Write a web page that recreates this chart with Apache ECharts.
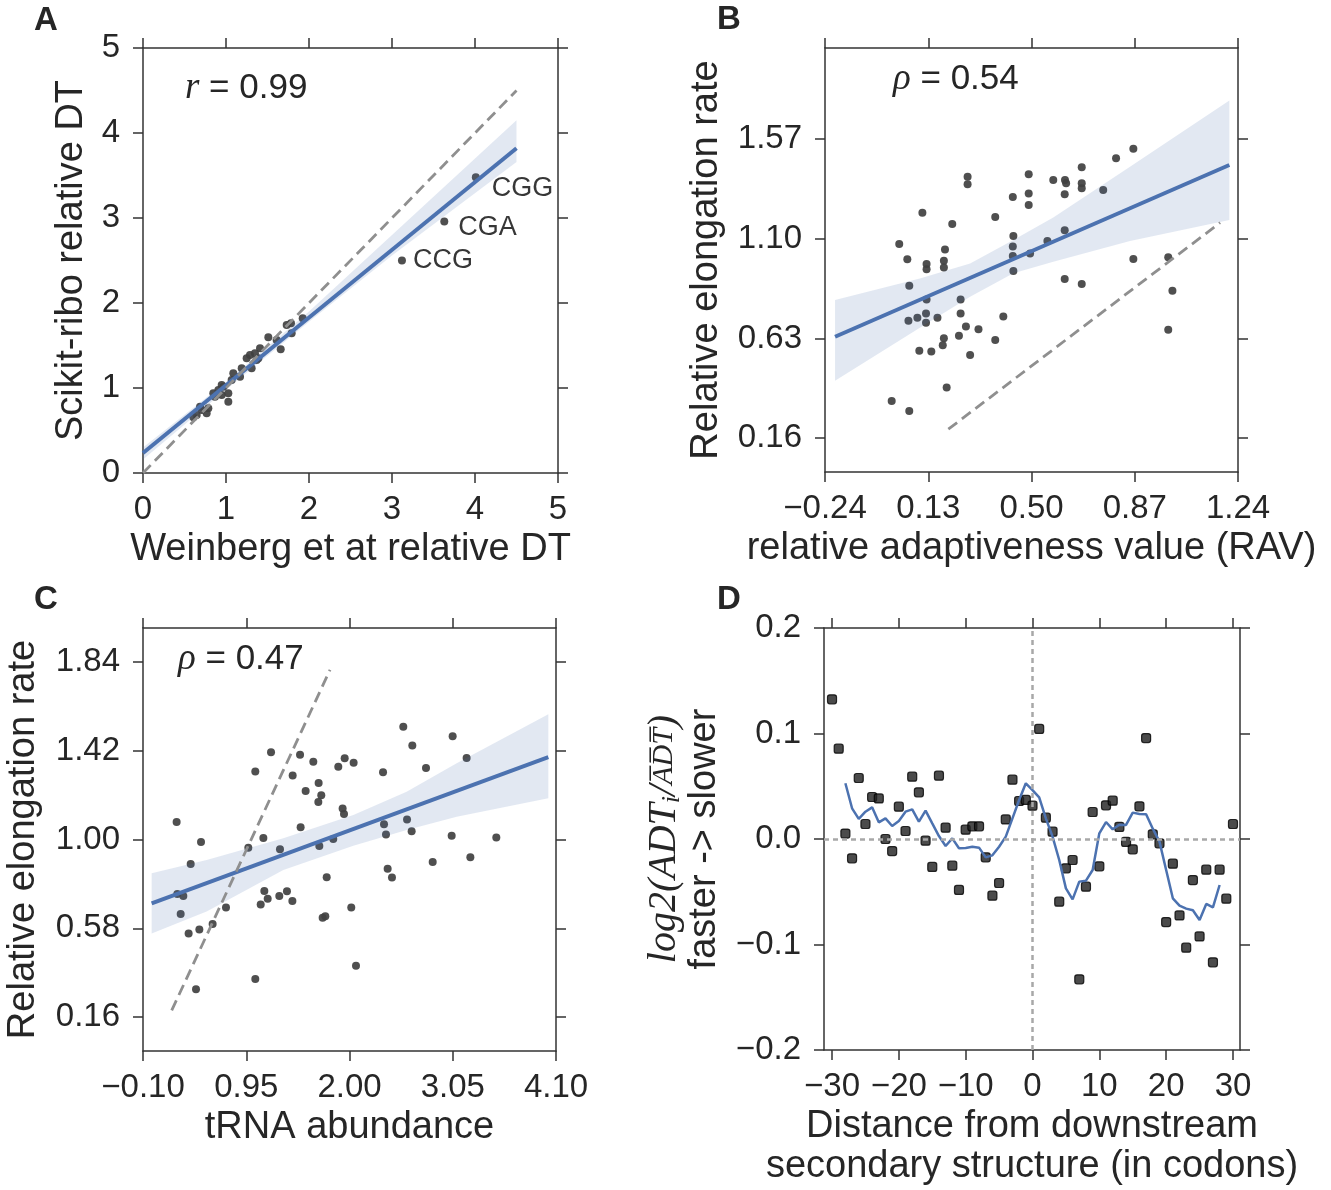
<!DOCTYPE html>
<html><head><meta charset="utf-8">
<script src="https://cdn.jsdelivr.net/npm/echarts@6/dist/echarts.min.js"></script>
<style>html,body{margin:0;padding:0;background:#fff;} #c{width:1331px;height:1190px;}</style>
</head><body><div id="c"></div>
<script>
// ---------- Panel A ----------
const aTicks = [0, 1, 2, 3, 4, 5];
const aPoints = [[0.647,0.682],[0.607,0.655],[0.707,0.741],[0.787,0.761],[0.847,0.937],[0.908,0.976],[0.968,1.016],[0.948,0.918],[1.028,0.839],[1.028,0.937],[1.088,1.173],[1.189,1.231],[1.289,1.388],[1.349,1.408],[1.41,1.467],[1.309,1.231],[1.39,1.349],[1.51,1.596],[1.61,1.565],[1.659,1.455],[1.731,1.741],[1.791,1.643],[1.783,1.761],[1.924,1.82],[0.948,1.035],[0.867,0.898],[0.767,0.702],[0.687,0.78],[1.068,1.094],[1.249,1.349],[1.369,1.329],[1.169,1.133]];
const aNamed = ['CCG', 'CGA', 'CGG'];
const aNamedPoints = [[3.12,2.50],[3.63,2.96],[4.01,3.48]];
const aFit = [[0,0.235],[4.5,3.82]];
const aBandX = [0, 1, 2, 3, 4.5];
const aBandLo = [0.16, 0.98, 1.78, 2.56, 3.66];
const aBandHi = [0.30, 1.07, 1.90, 2.80, 4.15];
const aIdentity = [[0,0],[4.5,4.5]];

// ---------- Panel B ----------
const bXTicks = [-0.24, 0.13, 0.50, 0.87, 1.24];
const bYTicks = [0.16, 0.63, 1.10, 1.57];
const bPoints = [[0.026,1.075],[0.055,1.003],[0.109,1.223],[0.124,0.981],[0.124,0.956],[0.062,0.879],[0.124,0.814],[0.059,0.714],[0.091,0.728],[0.122,0.748],[0.122,0.704],[0.163,0.728],[0.190,1.050],[0.186,0.997],[0.186,0.965],[0.216,1.170],[0.246,0.814],[0.246,0.748],[0.265,0.686],[0.310,0.673],[0.240,0.643],[0.186,0.631],[0.182,0.598],[0.098,0.572],[0.141,0.568],[0.280,0.552],[0.196,0.399],[-0.001,0.335],[0.062,0.288],[0.271,1.393],[0.271,1.357],[0.370,1.203],[0.399,0.734],[0.370,0.623],[0.433,1.297],[0.435,1.113],[0.433,1.064],[0.433,1.019],[0.435,0.948],[0.495,1.031],[0.490,1.404],[0.490,1.314],[0.490,1.259],[0.557,1.090],[0.578,1.377],[0.620,1.377],[0.624,1.362],[0.619,1.310],[0.619,1.140],[0.619,0.910],[0.680,1.437],[0.680,1.362],[0.680,1.338],[0.680,0.887],[0.757,1.330],[0.803,1.480],[0.865,1.525],[0.865,1.005],[0.990,1.013],[1.005,0.855],[0.990,0.671]];
const bFit = [[-0.204,0.638],[1.209,1.448]];
const bBandX = [-0.204, 0.1, 0.28, 0.435, 0.578, 0.853, 1.209];
const bBandLo = [0.431, 0.68, 0.827, 0.937, 0.992, 1.09, 1.189];
const bBandHi = [0.811, 0.913, 0.984, 1.094, 1.20, 1.44, 1.752];
const bIdentity = [[0.202,0.202],[1.176,1.176]];

// ---------- Panel C ----------
const cXTicks = [-0.10, 0.95, 2.00, 3.05, 4.10];
const cYTicks = [0.16, 0.58, 1.00, 1.42, 1.84];
const cPoints = [[0.242,1.083],[0.490,0.988],[0.385,0.884],[0.249,0.742],[0.310,0.733],[0.283,0.648],[0.364,0.556],[0.473,0.575],[0.608,0.600],[0.744,0.679],[0.439,0.292],[1.042,0.340],[1.042,1.321],[1.202,1.412],[1.124,1.007],[0.971,0.961],[1.134,0.757],[1.097,0.693],[1.168,0.720],[1.286,0.733],[1.364,0.755],[1.419,0.709],[1.293,0.954],[1.422,1.303],[1.497,1.401],[1.554,1.229],[1.503,1.058],[1.632,1.368],[1.686,1.267],[1.713,1.209],[1.683,1.177],[1.693,0.969],[1.835,1.002],[1.768,0.821],[1.727,0.630],[1.754,0.637],[1.886,1.344],[1.951,1.384],[2.042,1.363],[1.930,1.147],[1.944,1.121],[2.018,0.678],[2.066,0.403],[2.341,1.318],[2.351,1.072],[2.371,1.024],[2.388,0.862],[2.432,0.820],[2.547,1.533],[2.639,1.445],[2.585,1.095],[2.632,1.039],[2.778,1.338],[2.846,0.894],[3.049,1.488],[3.039,1.018],[3.191,1.385],[3.229,0.916],[3.493,1.010]];
const cFit = [[-0.012,0.698],[4.022,1.389]];
const cBandX = [-0.012, 0.547, 1.327, 2.039, 2.581, 3.090, 4.022];
const cBandLo = [0.556, 0.66, 0.856, 0.971, 1.045, 1.108, 1.195];
const cBandHi = [0.840, 0.903, 1.006, 1.116, 1.226, 1.360, 1.592];
const cIdentity = [[0.192,0.192],[1.802,1.802]];

// ---------- Panel D ----------
const dXTicks = [-30, -20, -10, 0, 10, 20, 30];
const dYTicks = [-0.2, -0.1, 0.0, 0.1, 0.2];
const dPos = [-30,-29,-28,-27,-26,-25,-24,-23,-22,-21,-20,-19,-18,-17,-16,-15,-14,-13,-12,-11,-10,-9,-8,-7,-6,-5,-4,-3,-2,-1,0,1,2,3,4,5,6,7,8,9,10,11,12,13,14,15,16,17,18,19,20,21,22,23,24,25,26,27,28,29,30];
const dVals = [0.1324,0.0856,0.0051,-0.0183,0.0578,0.0142,0.0398,0.0385,0.0,-0.0114,0.0306,0.0076,0.0591,0.0442,-0.0016,-0.0265,0.0600,0.0107,-0.0253,-0.0483,0.0088,0.0120,0.0120,-0.0174,-0.0537,-0.0417,0.0186,0.0562,0.0360,0.0370,0.0316,0.1043,0.0202,0.0069,-0.0594,-0.0278,-0.0199,-0.1330,-0.0452,0.0256,-0.0259,0.0319,0.0363,0.0114,-0.0028,-0.0098,0.0310,0.0957,0.0044,-0.0041,-0.0787,-0.0234,-0.0724,-0.1030,-0.0389,-0.0923,-0.0291,-0.1169,-0.0291,-0.0566,0.0142];
const dLinePos = [-28,-27,-26,-25,-24,-23,-22,-21,-20,-19,-18,-17,-16,-15,-14,-13,-12,-11,-10,-9,-8,-7,-6,-5,-4,-3,-2,-1,0,1,2,3,4,5,6,7,8,9,10,11,12,13,14,15,16,17,18,19,20,21,22,23,24,25,26,27,28];
const dLineVals = [0.0528,0.0291,0.0190,0.0259,0.0300,0.0158,0.0196,0.0123,0.0171,0.0259,0.0281,0.0164,0.0269,0.0148,0.0028,-0.0066,0.0006,-0.0088,-0.0085,-0.0073,-0.0082,-0.0174,-0.0155,-0.0073,0.0022,0.0196,0.0370,0.0528,0.0464,0.0395,0.0196,0.0022,-0.0199,-0.0468,-0.0572,-0.0404,-0.0395,-0.0294,0.0054,0.0161,0.0092,0.0136,0.0133,0.0250,0.0237,0.0234,0.0098,-0.0025,-0.0294,-0.0562,-0.0632,-0.0660,-0.0676,-0.0768,-0.0616,-0.0648,-0.0436];

// ---------- styling ----------
const TXT = '#262626';
const SPINE = '#333333';
const BLUE = '#4c72b0';
const SANS = 'Liberation Sans';
const SERIF = 'Liberation Serif';
const TICK_FS = 33, TITLE_FS = 38;

function fmt(dec) {
  return function (v) {
    const s = Math.abs(v).toFixed(dec);
    return (v < -1e-9 ? '\u2212' : '') + s;
  };
}

const grids = [], xAxes = [], yAxes = [], series = [];

function addPanel(p) {
  const gi = grids.length;
  grids.push({ left: p.grid[0], top: p.grid[1], width: p.grid[2], height: p.grid[3], show: false });
  const line = { show: true, onZero: false, lineStyle: { color: SPINE, width: 1.5 } };
  const tick = (vals) => ({ show: true, inside: false, length: 10, lineStyle: { color: SPINE, width: 1.5 }, customValues: vals });
  xAxes.push({
    type: 'value', gridIndex: gi, position: 'bottom', min: p.xr[0], max: p.xr[1],
    axisLine: line, axisTick: tick(p.xt), splitLine: { show: false },
    axisLabel: { show: true, customValues: p.xt, formatter: fmt(p.xd), fontSize: TICK_FS, color: TXT, fontFamily: SANS, margin: 20 },
    name: p.xname, nameLocation: 'middle', nameGap: 57,
    nameTextStyle: { fontSize: TITLE_FS, lineHeight: 40, color: TXT, fontFamily: SANS }
  });
  xAxes.push({
    type: 'value', gridIndex: gi, position: 'top', min: p.xr[0], max: p.xr[1],
    axisLine: line, axisTick: tick(p.xt), splitLine: { show: false },
    axisLabel: { show: false, customValues: p.xt }
  });
  yAxes.push({
    type: 'value', gridIndex: gi, position: 'left', min: p.yr[0], max: p.yr[1],
    axisLine: line, axisTick: tick(p.yt), splitLine: { show: false },
    axisLabel: { show: true, customValues: p.yt, formatter: fmt(p.yd), fontSize: TICK_FS, color: TXT, fontFamily: SANS, margin: 23 },
    name: p.yname, nameLocation: 'middle', nameGap: p.ygap, nameRotate: 90,
    nameTextStyle: Object.assign({ fontSize: TITLE_FS, lineHeight: 40, color: TXT, fontFamily: SANS }, p.ynameStyle || {})
  });
  yAxes.push({
    type: 'value', gridIndex: gi, position: 'right', min: p.yr[0], max: p.yr[1],
    axisLine: line, axisTick: tick(p.yt), splitLine: { show: false },
    axisLabel: { show: false, customValues: p.yt }
  });
  return { xAxisIndex: 2 * gi, yAxisIndex: 2 * gi };
}

function regPanel(ax, pts, fit, bx, lo, hi, ident) {
  series.push(Object.assign({
    type: 'scatter', data: pts, symbolSize: 8, silent: true, z: 2,
    itemStyle: { color: '#404040', opacity: 0.92 }
  }, ax));
  series.push(Object.assign({
    type: 'custom', silent: true, z: 3,
    data: bx.map((x, i) => [x, lo[i], hi[i]]),
    renderItem: function (params, api) {
      if (params.dataIndex !== 0) return null;
      const pts2 = [];
      for (let i = 0; i < bx.length; i++) pts2.push(api.coord([bx[i], hi[i]]));
      for (let i = bx.length - 1; i >= 0; i--) pts2.push(api.coord([bx[i], lo[i]]));
      return { type: 'polygon', shape: { points: pts2 }, style: { fill: 'rgba(76,114,176,0.16)' } };
    }
  }, ax));
  series.push(Object.assign({
    type: 'line', data: fit, symbol: 'none', silent: true, z: 4,
    lineStyle: { color: BLUE, width: 4 }
  }, ax));
  series.push(Object.assign({
    type: 'line', data: ident, symbol: 'none', silent: true, z: 5,
    lineStyle: { color: '#8f8f8f', width: 2.8, type: [11, 6] }
  }, ax));
}

// Panel A
const axA = addPanel({ grid: [143, 48, 415, 425], xr: [0, 5], yr: [0, 5], xt: aTicks, yt: aTicks, xd: 0, yd: 0,
  xname: 'Weinberg et at relative DT', yname: 'Scikit-ribo relative DT', ygap: 51 });
regPanel(axA, aPoints, aFit, aBandX, aBandLo, aBandHi, aIdentity);
const aOffsets = [[0, 0], [3, 6], [5, 11]];
series.push(Object.assign({
  type: 'scatter', symbolSize: 8, silent: true, z: 2,
  itemStyle: { color: '#404040', opacity: 0.92 },
  data: aNamed.map((n, i) => ({ name: n, value: aNamedPoints[i], label: { offset: aOffsets[i] } })),
  label: { show: true, position: 'right', distance: 7, formatter: (p) => p.name, fontSize: 27, color: TXT, fontFamily: SANS }
}, axA));

// Panel B
const axB = addPanel({ grid: [825, 48, 413, 424], xr: [-0.24, 1.24], yr: [0, 2], xt: bXTicks, yt: bYTicks, xd: 2, yd: 2,
  xname: 'relative adaptiveness value (RAV)', yname: 'Relative elongation rate', ygap: 98 });
regPanel(axB, bPoints, bFit, bBandX, bBandLo, bBandHi, bIdentity);

// Panel C
const axC = addPanel({ grid: [143, 628, 413, 423], xr: [-0.10, 4.10], yr: [0, 2], xt: cXTicks, yt: cYTicks, xd: 2, yd: 2,
  xname: 'tRNA abundance', yname: 'Relative elongation rate', ygap: 99 });
regPanel(axC, cPoints, cFit, cBandX, cBandLo, cBandHi, cIdentity);

// Panel D
const axD = addPanel({ grid: [824, 628, 416, 422], xr: [-31.2, 31.05], yr: [-0.2, 0.2], xt: dXTicks, yt: dYTicks, xd: 0, yd: 1,
  xname: 'Distance from downstream\nsecondary structure (in codons)',
  yname: '{m|log2(ADT}{s|i}{m|/}{o|A\u0305D\u0305T\u0305}{m|)}\n{n|faster -> slower}', ygap: 99,
  ynameStyle: { rich: {
    m: { fontFamily: SERIF, fontStyle: 'italic', fontSize: 40, lineHeight: 42, color: TXT },
    s: { fontFamily: SERIF, fontStyle: 'italic', fontSize: 26, lineHeight: 42, color: TXT, verticalAlign: 'bottom' },
    o: { fontFamily: SERIF, fontStyle: 'italic', fontSize: 30, lineHeight: 42, color: TXT },
    n: { fontFamily: SANS, fontSize: 38, lineHeight: 40, color: TXT }
  } } });
series.push(Object.assign({
  type: 'scatter', data: [], silent: true, z: 1,
  markLine: { silent: true, symbol: 'none', label: { show: false },
    lineStyle: { color: '#a8a8a8', width: 2.5, type: [5, 4] },
    data: [{ yAxis: 0 }, { xAxis: 0 }] }
}, axD));
series.push(Object.assign({
  type: 'scatter', data: dPos.map((x, i) => [x, dVals[i]]), symbol: 'roundRect', symbolSize: 9, silent: true, z: 3,
  itemStyle: { color: '#1e1e1e', borderColor: '#000', borderWidth: 1.2 }
}, axD));
series.push(Object.assign({
  type: 'line', data: dLinePos.map((x, i) => [x, dLineVals[i]]), symbol: 'none', silent: true, z: 4,
  lineStyle: { color: BLUE, width: 2.5 }
}, axD));

function corrText(left, top, sym, val) {
  return { type: 'text', left: left, top: top, silent: true,
    style: { text: '{i|' + sym + '} = ' + val, fill: TXT, fontSize: 35, fontFamily: SANS,
      rich: { i: { fontFamily: SERIF, fontStyle: 'italic', fontSize: 37, fill: TXT } } } };
}
function panelLabel(left, top, t) {
  return { text: t, left: left, top: top, padding: 0,
    textStyle: { color: TXT, fontSize: 33, fontWeight: 'bold', fontFamily: SANS, lineHeight: 34 } };
}

const chart = echarts.init(document.getElementById('c'), null, { renderer: 'canvas' });
chart.setOption({
  backgroundColor: '#ffffff',
  animation: false,
  textStyle: { fontFamily: SANS, color: TXT },
  title: [panelLabel(34, 4, 'A'), panelLabel(717, 3, 'B'), panelLabel(34, 583, 'C'), panelLabel(717, 583, 'D')],
  grid: grids, xAxis: xAxes, yAxis: yAxes, series: series,
  graphic: [
    corrText(185, 70, 'r', '0.99'), corrText(893, 61, '\u03c1', '0.54'), corrText(178, 641, '\u03c1', '0.47')
  ]
});
</script></body></html>
